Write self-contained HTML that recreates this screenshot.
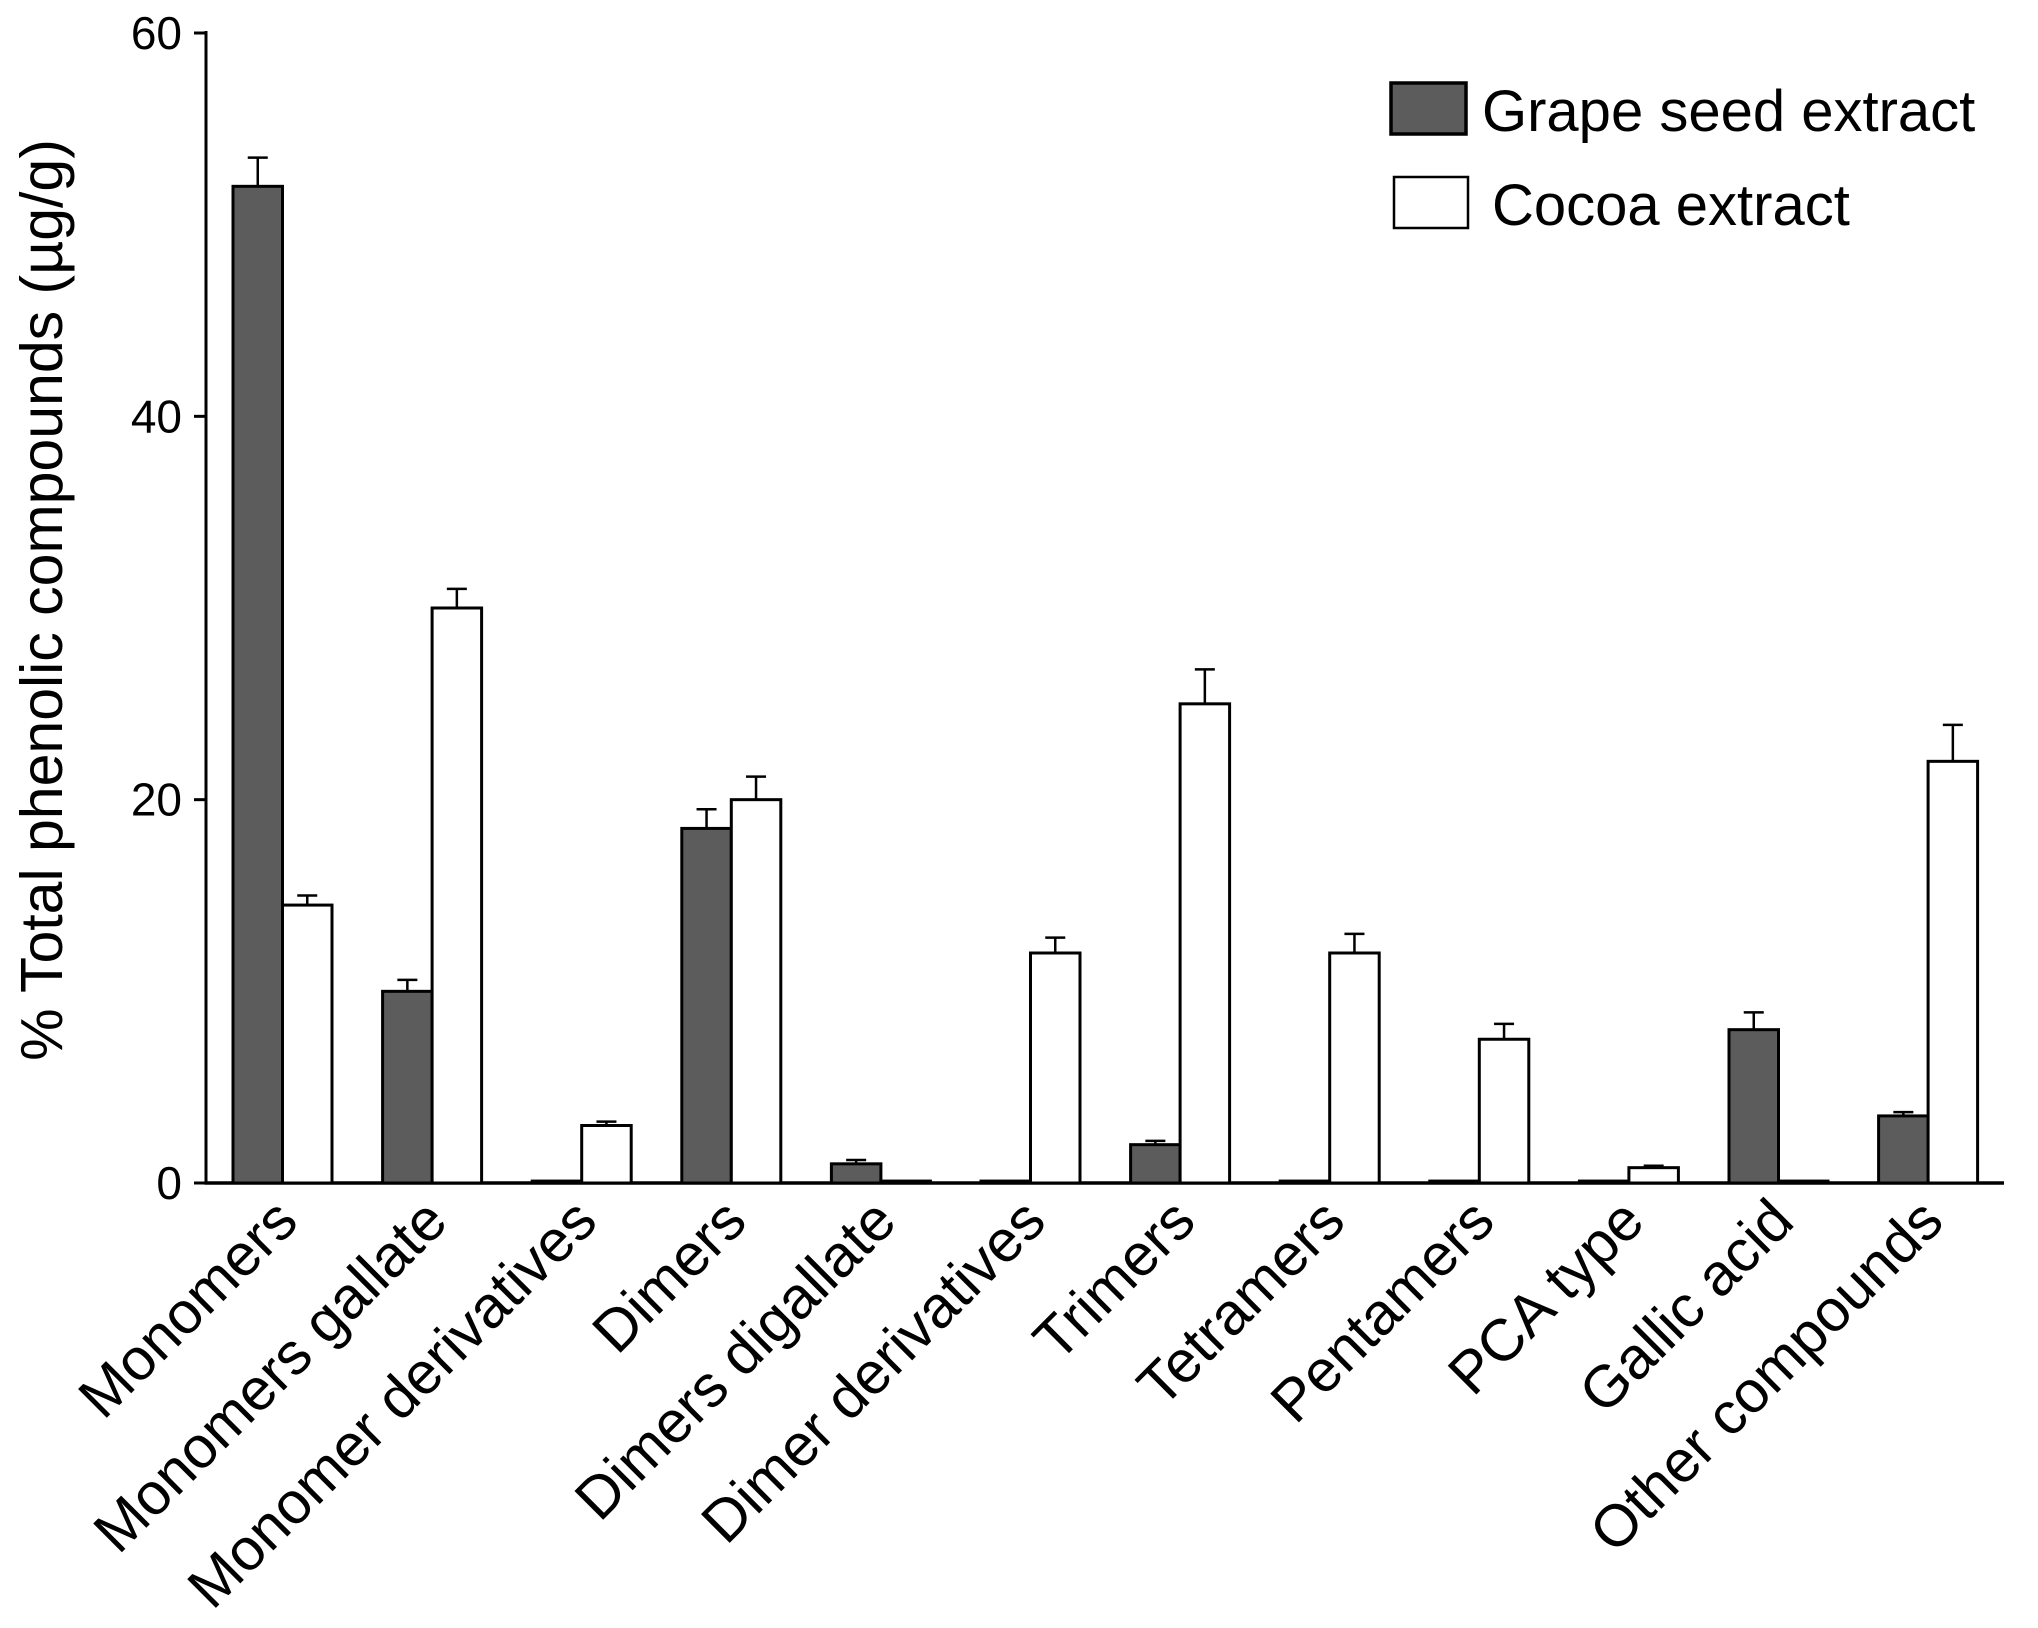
<!DOCTYPE html>
<html><head><meta charset="utf-8"><style>
html,body{margin:0;padding:0;background:#fff;}
svg{display:block;font-family:"Liberation Sans",sans-serif;}
</style></head><body>
<svg id="chart" width="2038" height="1628" viewBox="0 0 2038 1628" xmlns="http://www.w3.org/2000/svg">
<g id="plot"></g>
</svg>
<script>
const categories = ["Monomers","Monomers gallate","Monomer derivatives","Dimers","Dimers digallate","Dimer derivatives","Trimers","Tetramers","Pentamers","PCA type","Gallic acid","Other compounds"];
const grapeValues = [52,10,0.1,18.5,1,0.1,2,0.1,0.1,0.1,8,3.5];
const grapeErrors = [1.5,0.6,0,1,0.2,0,0.2,0,0,0,0.9,0.2];
const cocoaValues = [14.5,30,3,20,0.1,12,25,12,7.5,0.8,0.1,22];
const cocoaErrors = [0.5,1,0.2,1.2,0,0.8,1.8,1,0.8,0.1,0,1.9];
const yTicks = [0,20,40,60];

const NS="http://www.w3.org/2000/svg";
const g=document.getElementById('plot');
const Y0=1183, PXU=(1183-33)/60;
const yS=v=>Y0-v*PXU;
const X0=233, STEP=149.6, BW=49.5;
const xS=i=>X0+i*STEP;
function mk(t,a,txt){const e=document.createElementNS(NS,t);for(const k in a)e.setAttribute(k,a[k]);if(txt!==undefined)e.textContent=txt;g.appendChild(e);return e;}

let e=mk('line',{x1:206,y1:31,x2:206,y2:Y0+1.5,stroke:'#000','stroke-width':3});


e=mk('line',{x1:204.5,y1:Y0,x2:2004,y2:Y0,stroke:'#000','stroke-width':3.5});


yTicks.forEach(t=>{
  let l=mk('line',{x1:194,y1:yS(t),x2:206,y2:yS(t),stroke:'#000','stroke-width':3});
  
  
  let tx=mk('text',{x:182,y:yS(t)+16,'text-anchor':'end','font-size':46},String(t));
  
  
});
e=mk('text',{x:0,y:0,transform:'translate(62,600) rotate(-90)','text-anchor':'middle','font-size':59},'% Total phenolic compounds (\u00b5g/g)');



function bar(x,v,err,fill,name){
  const y=yS(v);
  if(err>0){
    let l=mk('line',{x1:x+BW/2,y1:y,x2:x+BW/2,y2:yS(v+err),stroke:'#000','stroke-width':2.5});
    
    
    let c=mk('line',{x1:x+BW/2-10,y1:yS(v+err),x2:x+BW/2+10,y2:yS(v+err),stroke:'#000','stroke-width':2.5});
    
    
  }
  let r=mk('rect',{x:x,y:y,width:BW,height:Math.max(Y0-y,0.5),fill:fill,stroke:'#000','stroke-width':3});
  
  
}
categories.forEach((c,i)=>{
  bar(xS(i),grapeValues[i],grapeErrors[i],'#5c5c5c','bar-grape');
  bar(xS(i)+BW,cocoaValues[i],cocoaErrors[i],'#ffffff','bar-cocoa');
  const cx=xS(i)+BW+18, cy=1224;
  let t=mk('text',{x:cx,y:cy,transform:`rotate(-45 ${cx} ${cy})`,'text-anchor':'end','font-size':59},c);
  
  
});

e=mk('rect',{x:1391,y:83,width:75,height:51,fill:'#5c5c5c',stroke:'#000','stroke-width':3.5});


e=mk('text',{x:1482,y:131,'font-size':58},'Grape seed extract');


e=mk('rect',{x:1394,y:177,width:74,height:51,fill:'#fff',stroke:'#000','stroke-width':2.5});


e=mk('text',{x:1492,y:225,'font-size':58},'Cocoa extract');


</script>
</body></html>
